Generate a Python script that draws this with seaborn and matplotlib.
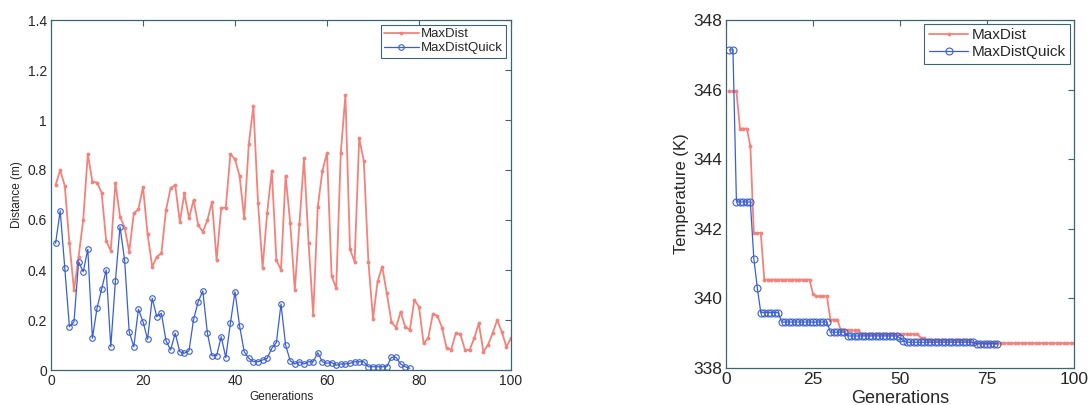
import matplotlib
matplotlib.use("Agg")
import matplotlib.pyplot as plt
import seaborn as sns
import pandas as pd

# ---------------- data ----------------
gens_maxdist = list(range(1, 101))
gens_quick = list(range(1, 79))

dist_maxdist = [
    0.74, 0.80, 0.736, 0.507, 0.32, 0.453, 0.60, 0.864, 0.753, 0.75,
    0.71, 0.516, 0.477, 0.749, 0.613, 0.57, 0.473, 0.627, 0.643, 0.733,
    0.543, 0.413, 0.453, 0.467, 0.64, 0.727, 0.74, 0.593, 0.707, 0.607,
    0.68, 0.58, 0.553, 0.60, 0.673, 0.44, 0.647, 0.65, 0.864, 0.843,
    0.776, 0.607, 0.904, 1.056, 0.67, 0.408, 0.63, 0.797, 0.44, 0.40,
    0.777, 0.589, 0.32, 0.584, 0.847, 0.507, 0.22, 0.653, 0.797, 0.869,
    0.376, 0.327, 0.869, 1.10, 0.483, 0.433, 0.927, 0.836, 0.433, 0.205,
    0.355, 0.413, 0.307, 0.193, 0.169, 0.233, 0.173, 0.16, 0.28, 0.253,
    0.107, 0.127, 0.223, 0.217, 0.17, 0.087, 0.082, 0.147, 0.143, 0.08,
    0.08, 0.127, 0.187, 0.073, 0.10, 0.147, 0.20, 0.153, 0.093, 0.127,
]
dist_quick = [
    0.507, 0.637, 0.407, 0.173, 0.193, 0.433, 0.393, 0.483, 0.127, 0.247,
    0.323, 0.40, 0.093, 0.356, 0.573, 0.44, 0.153, 0.093, 0.243, 0.193,
    0.123, 0.287, 0.213, 0.227, 0.117, 0.08, 0.147, 0.073, 0.067, 0.077,
    0.203, 0.273, 0.316, 0.147, 0.057, 0.057, 0.133, 0.05, 0.187, 0.313,
    0.176, 0.073, 0.047, 0.033, 0.033, 0.04, 0.047, 0.087, 0.11, 0.264,
    0.10, 0.037, 0.024, 0.033, 0.024, 0.033, 0.033, 0.069, 0.033, 0.027,
    0.03, 0.019, 0.024, 0.024, 0.027, 0.033, 0.033, 0.033, 0.013, 0.013,
    0.013, 0.013, 0.013, 0.051, 0.051, 0.024, 0.013, 0.007,
]
temp_maxdist = (
    [345.95] * 3 + [344.88] * 3 + [344.37] + [341.88] * 3 + [340.54] * 14
    + [340.13] + [340.06] * 4 + [339.39] * 3 + [339.08] * 6 + [338.98] * 17
    + [338.86] * 2 + [338.80] * 13 + [338.71] * 30
)
temp_quick = (
    [347.14] * 2 + [342.77] * 5 + [341.14] + [340.30] + [339.59] * 6
    + [339.32] * 14 + [339.03] * 5 + [338.92] * 15 + [338.86] + [338.78]
    + [338.74] * 20 + [338.70] * 7
)

series_labels = ["MaxDist", "MaxDistQuick"]
dist_xticks = [0, 20, 40, 60, 80, 100]
dist_yticks = [0, 0.2, 0.4, 0.6, 0.8, 1.0, 1.2, 1.4]
dist_yticklabels = ["0", "0.2", "0.4", "0.6", "0.8", "1", "1.2", "1.4"]
temp_xticks = [0, 25, 50, 75, 100]
temp_yticks = [338, 340, 342, 344, 346, 348]

# ---------------- style ----------------
sns.set_style("white")
plt.rcParams["font.family"] = ["Liberation Sans", "DejaVu Sans"]

RED = "#f3827a"
BLUE = "#3a5fcf"
SPINE = "#3d6472"

fig = plt.figure(figsize=(10.89, 4.05), dpi=100)
ax1 = fig.add_axes([51 / 1089, 1 - 370 / 405, (511 - 51) / 1089, 350 / 405])
ax2 = fig.add_axes([726 / 1089, 1 - 368 / 405, (1074 - 726) / 1089, 348 / 405])

# left: distance
sns.lineplot(x=gens_maxdist, y=dist_maxdist, ax=ax1, color=RED, linewidth=1.3,
             marker=".", markersize=4, markeredgecolor=RED, label=series_labels[0])
sns.lineplot(x=gens_quick, y=dist_quick, ax=ax1, color=BLUE, linewidth=0.9,
             marker="o", markersize=4, markerfacecolor="none",
             markeredgecolor=BLUE, markeredgewidth=0.8, label=series_labels[1])
ax1.set_xlim(0, 100)
ax1.set_ylim(0, 1.4)
ax1.set_xticks(dist_xticks)
ax1.set_yticks(dist_yticks)
ax1.set_yticklabels(dist_yticklabels)
ax1.set_xlabel("Generations", fontsize=8.5, labelpad=2)
ax1.set_ylabel("Distance (m)", fontsize=8.5, labelpad=3)
ax1.tick_params(labelsize=10, direction="in", length=4, top=True, right=True,
                color=SPINE, pad=3)
leg1 = ax1.legend(loc="upper right", fontsize=9.5, frameon=True, fancybox=False,
                  framealpha=1, borderpad=0.25, handlelength=2.6,
                  handletextpad=0.2, labelspacing=0.15, borderaxespad=0.35)
leg1.get_frame().set_edgecolor(SPINE)
leg1.get_frame().set_linewidth(0.8)

# right: temperature
sns.lineplot(x=gens_maxdist, y=temp_maxdist, ax=ax2, color=RED, linewidth=1.3,
             marker=".", markersize=4, markeredgecolor=RED, label=series_labels[0])
sns.lineplot(x=gens_quick, y=temp_quick, ax=ax2, color=BLUE, linewidth=0.9,
             marker="o", markersize=5, markerfacecolor="none",
             markeredgecolor=BLUE, markeredgewidth=0.8, label=series_labels[1])
ax2.set_xlim(0, 100)
ax2.set_ylim(338, 348)
ax2.set_xticks(temp_xticks)
ax2.set_yticks(temp_yticks)
ax2.set_xlabel("Generations", fontsize=13, labelpad=2)
ax2.set_ylabel("Temperature (K)", fontsize=12, labelpad=3)
ax2.tick_params(labelsize=12.5, direction="in", length=4, top=True, right=True,
                color=SPINE, pad=3)
leg2 = ax2.legend(loc="upper right", fontsize=11, frameon=True, fancybox=False,
                  framealpha=1, borderpad=0.3, handlelength=2.6,
                  handletextpad=0.2, labelspacing=0.2, borderaxespad=0.25)
leg2.get_frame().set_edgecolor(SPINE)
leg2.get_frame().set_linewidth(0.8)

for ax in (ax1, ax2):
    for s in ax.spines.values():
        s.set_visible(True)
        s.set_color(SPINE)
        s.set_linewidth(0.9)

fig.savefig("out.png", dpi=100, facecolor="white")
